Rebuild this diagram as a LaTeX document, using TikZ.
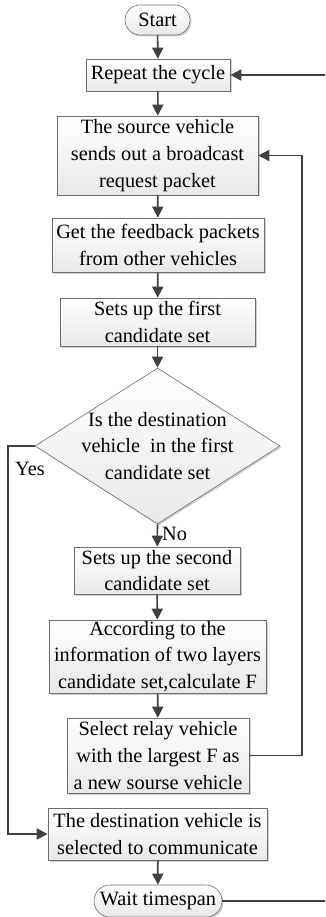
\documentclass[tikz,border=0pt]{standalone}
\usepackage{fontspec}
\setmainfont{Liberation Serif}
\usepackage{tikz}
\definecolor{linegray}{RGB}{64, 64, 64}
\definecolor{boxgray}{RGB}{110, 110, 110}
\usetikzlibrary{shapes, arrows.meta, positioning, shadows, shapes.geometric, shapes.misc}

\begin{document}
\begin{tikzpicture}[
    x=1pt, y=-1pt,
    font=\fontsize{20.3}{26.7}\selectfont,
    box/.style={rectangle, draw=boxgray, line width=0.6pt, top color=white, bottom color=gray!18, drop shadow={shadow xshift=1.5pt, shadow yshift=-1.5pt, fill=gray!60, opacity=0.6}, align=center, inner sep=0pt},
    terminal/.style={box, rounded rectangle, minimum height=30pt},
    flow/.style={-{Triangle[length=11pt, width=11pt]}, draw=linegray, line width=1.6pt},
    lab/.style={font=\fontsize{20.3}{24}\selectfont, inner sep=0pt}
]
    \clip (0,0) rectangle (325,917);

    % Start and first steps
    \node[terminal, minimum width=65pt] (start) at (157.5,20) {Start};
    \node[box, minimum width=144pt, minimum height=32pt] (repeat) at (158,75) {Repeat the cycle};
    \node[box, minimum width=201pt, minimum height=79pt] (source) at (157.5,155.5) {The source vehicle\\sends out a broadcast\\request packet};
    \node[box, minimum width=212pt, minimum height=54pt] (feedback) at (158,245) {Get the feedback packets\\from other vehicles};
    \node[box, minimum width=195pt, minimum height=48pt] (first) at (157.5,322) {Sets up the first\\candidate set};

    % Decision
    \node[diamond, draw=boxgray, line width=0.6pt, top color=white, bottom color=gray!18, drop shadow={shadow xshift=1.5pt, shadow yshift=-1.5pt, fill=gray!60, opacity=0.6}, minimum width=245pt, minimum height=156pt, inner sep=0pt] (decide) at (157.5,446) {};
    \node[align=center, inner sep=0pt] (decidetext) at (157.5,446) {Is the destination\\vehicle\ \ in the first\\candidate set};

    % Second candidate set and relay selection
    \node[box, minimum width=166pt, minimum height=47pt] (second) at (157,570.5) {Sets up the second\\candidate set};
    \node[box, minimum width=217pt, minimum height=73pt] (accord) at (157.5,656.5) {According to the\\information of two layers\\candidate set,calculate F};
    \node[box, minimum width=182pt, minimum height=75pt] (select) at (158,755.5) {Select relay vehicle\\with the largest F as\\a new sourse vehicle};

    % End steps
    \node[box, minimum width=219pt, minimum height=52pt] (dest) at (157.5,834) {The destination vehicle is\\selected to communicate};
    \node[terminal, minimum width=128pt, minimum height=32pt] (wait) at (158,901) {Wait timespan};

    % Main arrows
    \draw[flow] (start) -- (repeat);
    \draw[flow] (repeat) -- (source);
    \draw[flow] (source) -- (feedback);
    \draw[flow] (feedback) -- (first);
    \draw[flow] (first) -- (decide);
    \draw[flow] (decide.south) -- node[lab, right=4pt, pos=0.45] (no) {No} (second);
    \draw[flow] (second) -- (accord);
    \draw[flow] (accord) -- (select);
    \draw[flow] (dest) -- (wait);

    % Loops
    \draw[flow] (select.east) -- (302,755.5) |- (source.east);
    \draw[flow] (decide.west) -- (8,446) |- (dest.west);
    \node[lab, anchor=west] (yes) at (15,469) {Yes};
    \draw[flow] (wait.east) -- (335,901) |- (repeat.east);
\end{tikzpicture}
\end{document}
